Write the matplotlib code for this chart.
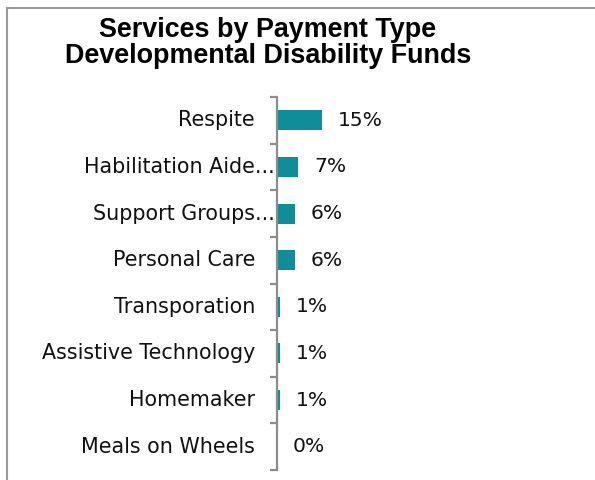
import matplotlib
matplotlib.use("Agg")
from matplotlib import pyplot as plt
from matplotlib.lines import Line2D
import numpy as np

services = ['Respite', 'Habilitation Aide...', 'Support Groups...', 'Personal Care',
            'Transporation', 'Assistive Technology', 'Homemaker', 'Meals on Wheels']
percent = [15, 7, 6, 6, 1, 1, 1, 0]
title_lines = ['Services by Payment Type', 'Developmental Disability Funds']

bar_color = '#0F8E9A'
axis_gray = '#8c8c8c'
W, H = 595, 480

fig = plt.figure(figsize=(W / 100, H / 100), dpi=100)

# frame around the chart area (only top and left edges fall inside the image)
fig.add_artist(Line2D([7 / W, 7 / W], [0, 1 - 8 / H], color='#999999', lw=1.5))
fig.add_artist(Line2D([7 / W, 1], [1 - 8 / H, 1 - 8 / H], color='#999999', lw=1.5))

fig.text(268 / W, 1 - 37 / H, title_lines[0], ha='center', va='baseline',
         family='Liberation Sans', weight='bold', fontsize=19.4)
fig.text(268 / W, 1 - 63 / H, title_lines[1], ha='center', va='baseline',
         family='Liberation Sans', weight='bold', fontsize=19.4)

ax = fig.add_axes([277 / W, 1 - 470 / H, 1 - 277 / W, (470 - 97) / H])
y = np.arange(len(services))
ax.barh(y, percent, height=0.43, color=bar_color, align='center')
ax.set_ylim(len(services) - 0.5, -0.5)
ax.set_xlim(0, (W - 277) / 3.0)

for side in ['top', 'right', 'bottom']:
    ax.spines[side].set_visible(False)
ax.spines['left'].set_color(axis_gray)
ax.spines['left'].set_linewidth(1.6)
ax.set_xticks([])

# category boundaries get the tick marks, labels sit between them
ax.set_yticks(np.arange(len(services) + 1) - 0.5, minor=True)
ax.tick_params(axis='y', which='minor', length=5, width=1.6, color=axis_gray, direction='out')
ax.set_yticks([])

for i, name in enumerate(services):
    pad = -2 if name.endswith('...') else -22
    ax.annotate(name, xy=(0, i), xycoords=('axes fraction', 'data'),
                xytext=(pad * 0.72, 0), textcoords='offset points',
                ha='right', va='center', family='DejaVu Sans', fontsize=14.9,
                color='#111111')

for i, v in enumerate(percent):
    ax.annotate('%d%%' % v, xy=(v, i), xytext=(16 * 0.72, 0), textcoords='offset points',
                ha='left', va='center', family='DejaVu Sans', fontsize=14.6,
                color='#111111')

fig.savefig('out.png', dpi=100)
